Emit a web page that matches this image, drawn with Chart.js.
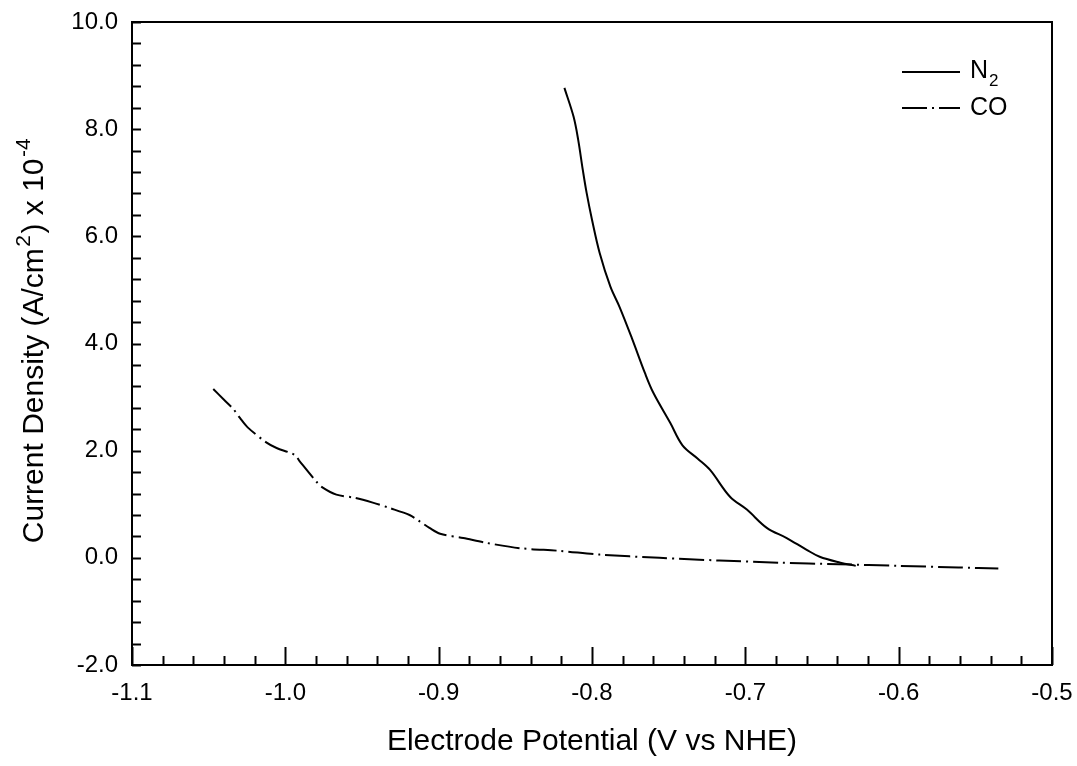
<!DOCTYPE html>
<html>
<head>
<meta charset="utf-8">
<script src="https://cdn.jsdelivr.net/npm/chart.js@4.4.1/dist/chart.umd.min.js"></script>
<style>
  html, body { margin: 0; padding: 0; background: #fff; }
</style>
</head>
<body>
<canvas id="myChart" width="1077" height="766"></canvas>
<script>
// N2 saturated solution
const n2Potential = [-0.818, -0.812, -0.809, -0.806, -0.8035, -0.800, -0.795, -0.788, -0.782, -0.774, -0.7655, -0.760,
  -0.749, -0.741, -0.731, -0.723, -0.710, -0.699, -0.686, -0.673, -0.660, -0.6515, -0.638, -0.628];
const n2Current = [8.77, 8.23, 7.80, 7.24, 6.81, 6.31, 5.69, 5.06, 4.68, 4.10, 3.45, 3.08,
  2.52, 2.10, 1.85, 1.64, 1.14, 0.90, 0.56, 0.37, 0.15, 0.02, -0.09, -0.15];

// CO saturated solution
const coPotential = [-1.047, -1.040, -1.034, -1.0296, -1.0244, -1.0122, -1.0057, -0.9938, -0.9906, -0.9797, -0.9756,
  -0.9667, -0.9547, -0.943, -0.932, -0.919, -0.9124, -0.906, -0.899, -0.884, -0.869, -0.847, -0.821, -0.795,
  -0.756, -0.717, -0.678, -0.639, -0.600, -0.561, -0.535];
const coCurrent = [3.15, 2.95, 2.78, 2.61, 2.43, 2.15, 2.05, 1.92, 1.80, 1.42, 1.31,
  1.18, 1.12, 1.03, 0.93, 0.80, 0.68, 0.56, 0.45, 0.37, 0.28, 0.18, 0.13, 0.06,
  0.0, -0.05, -0.09, -0.12, -0.15, -0.18, -0.20];

const xTicks = [-1.1, -1.0, -0.9, -0.8, -0.7, -0.6, -0.5];
const yTicks = [-2, 0, 2, 4, 6, 8, 10];
const seriesNames = ['N', 'CO'];

const FONT = '"Liberation Sans", Arial, sans-serif';
const coDash = [25, 5, 2, 5];

// box, inward ticks, legend and axis titles
const decorations = {
  id: 'decorations',
  afterDraw(chart) {
    const { ctx, chartArea: a, scales: { x, y } } = chart;
    ctx.save();
    ctx.strokeStyle = '#000';
    ctx.fillStyle = '#000';
    ctx.lineWidth = 2;
    ctx.strokeRect(a.left, a.top, a.right - a.left, a.bottom - a.top);

    // x ticks: major 0.1, minor 0.02
    for (let i = 0; i <= 30; i++) {
      const v = -1.1 + i * 0.02;
      const px = Math.round(x.getPixelForValue(v)) + 0.5;
      const len = i % 5 === 0 ? 18 : 9;
      ctx.beginPath();
      ctx.moveTo(px, a.bottom);
      ctx.lineTo(px, a.bottom - len);
      ctx.stroke();
    }
    // y ticks every 0.4
    for (let i = 0; i <= 30; i++) {
      const v = -2 + i * 0.4;
      const py = Math.round(y.getPixelForValue(v)) + 0.5;
      ctx.beginPath();
      ctx.moveTo(a.left, py);
      ctx.lineTo(a.left + 9, py);
      ctx.stroke();
    }

    // legend
    ctx.beginPath();
    ctx.moveTo(902, 72); ctx.lineTo(960, 72);
    ctx.stroke();
    ctx.setLineDash(coDash);
    ctx.beginPath();
    ctx.moveTo(902, 108); ctx.lineTo(960, 108);
    ctx.stroke();
    ctx.setLineDash([]);
    ctx.textBaseline = 'middle';
    ctx.textAlign = 'left';
    ctx.font = '25px ' + FONT;
    ctx.fillText(seriesNames[0], 970, 71);
    const nW = ctx.measureText(seriesNames[0]).width;
    ctx.font = '17px ' + FONT;
    ctx.fillText('2', 970 + nW + 1, 81);
    ctx.font = '25px ' + FONT;
    ctx.fillText(seriesNames[1], 970, 108);

    // x title
    ctx.textAlign = 'center';
    ctx.font = '30px ' + FONT;
    ctx.fillText('Electrode Potential (V vs NHE)', (a.left + a.right) / 2, 742);

    // y title with superscripts
    const parts = [
      ['Current Density (A/cm', false],
      ['2', true],
      [') x 10', false],
      ['-4', true]
    ];
    const big = '30px ' + FONT, small = '21px ' + FONT;
    let total = 0;
    parts.forEach(([t, sup]) => { ctx.font = sup ? small : big; total += ctx.measureText(t).width + (sup ? 3 : 0); });
    ctx.translate(35, 340);
    ctx.rotate(-Math.PI / 2);
    ctx.textAlign = 'left';
    let cx = -total / 2;
    parts.forEach(([t, sup]) => {
      ctx.font = sup ? small : big;
      ctx.fillText(t, cx + (sup ? 1.5 : 0), sup ? -11 : 0);
      cx += ctx.measureText(t).width + (sup ? 3 : 0);
    });
    ctx.restore();
  }
};

const ctx = document.getElementById('myChart').getContext('2d');
new Chart(ctx, {
  type: 'line',
  data: {
    datasets: [
      {
        label: 'N2',
        data: n2Potential.map((v, i) => ({ x: v, y: n2Current[i] })),
        borderColor: '#000',
        borderWidth: 2,
        pointRadius: 0,
        fill: false,
        tension: 0.35
      },
      {
        label: 'CO',
        data: coPotential.map((v, i) => ({ x: v, y: coCurrent[i] })),
        borderColor: '#000',
        borderWidth: 2,
        borderDash: coDash,
        pointRadius: 0,
        fill: false,
        tension: 0.3
      }
    ]
  },
  options: {
    responsive: false,
    animation: false,
    devicePixelRatio: 1,
    layout: { padding: { top: 22, right: 25, left: 0, bottom: 0 } },
    plugins: { legend: { display: false }, tooltip: { enabled: false } },
    scales: {
      x: {
        type: 'linear',
        min: -1.1,
        max: -0.5,
        grid: { display: false, drawTicks: false },
        border: { display: false },
        afterBuildTicks: s => { s.ticks = xTicks.map(v => ({ value: v })); },
        afterFit: s => { s.height = 101; s.paddingLeft = 0; s.paddingRight = 0; },
        ticks: {
          padding: 14,
          color: '#000',
          maxRotation: 0,
          font: { family: FONT, size: 24 },
          callback: v => v.toFixed(1)
        }
      },
      y: {
        min: -2,
        max: 10,
        grid: { display: false, drawTicks: false },
        border: { display: false },
        afterBuildTicks: s => { s.ticks = yTicks.map(v => ({ value: v })); },
        afterFit: s => { s.width = 132; s.paddingTop = 0; s.paddingBottom = 0; },
        ticks: {
          padding: 14,
          color: '#000',
          font: { family: FONT, size: 24 },
          callback: v => v.toFixed(1)
        }
      }
    }
  },
  plugins: [decorations]
});
</script>
</body>
</html>
